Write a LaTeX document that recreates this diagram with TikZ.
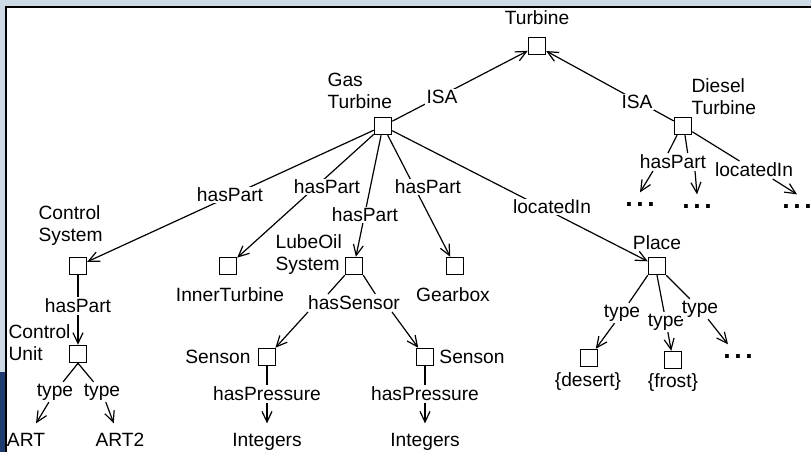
\documentclass[tikz,border=0pt]{standalone}
\usepackage{fontspec}
\setmainfont{Liberation Sans}
\usetikzlibrary{arrows.meta}
\definecolor{slidebg}{HTML}{CDD9E4}
\definecolor{logoblue}{HTML}{1E3C6E}
\newcommand{\etcdots}{{\fontsize{20}{20}\selectfont\bfseries .\kern2.7pt.\kern2.7pt.}}

\begin{document}
\begin{tikzpicture}[x=0.75pt,y=-0.75pt,>={Straight Barb[length=8pt,width=7.5pt]},
  line width=0.9pt,
  every node/.style={font=\fontsize{14.4}{16.5}\selectfont},
  box/.style={draw,line width=1.1pt,minimum size=12.75pt,inner sep=0pt},
  cname/.style={inner sep=0pt},
  leaf/.style={inner sep=0pt,outer sep=7.5pt},
  etc/.style={inner sep=0pt,outer sep=8pt},
  rel/.style={fill=white,inner sep=1pt}]
\useasboundingbox (0,0) rectangle (811,452);
\fill[slidebg] (0,0) rectangle (811,452);
\fill[logoblue] (0,372) rectangle (5,452);
\fill[white] (6,7) rectangle (811,452);
\draw[line width=1.5pt] (6,452) -- (6,7) -- (811,7);

% concepts
\node[box] (turbine) at (537,46) {};
\node[cname] (turbineT) at (537,18) {Turbine};
\node[box] (gas) at (383,126) {};
\node[cname,anchor=west,align=left] (gasT) at (327,91) {Gas\\Turbine};
\node[box] (diesel) at (683,126) {};
\node[cname,anchor=west,align=left] (dieselT) at (691,97) {Diesel\\Turbine};

\node[box] (ctrl) at (78,266) {};
\node[cname,anchor=west,align=left] (ctrlT) at (38,226) {Control\\System};
\node[box] (inner) at (228,266) {};
\node[cname] (innerT) at (230,295) {InnerTurbine};
\node[box] (lube) at (354,266) {};
\node[cname,anchor=west,align=left] (lubeT) at (275,255) {LubeOil\\System};
\node[box] (gear) at (455,266) {};
\node[cname] (gearT) at (453,295) {Gearbox};
\node[box] (place) at (657,266) {};
\node[cname] (placeT) at (657,243) {Place};

\node[box] (unit) at (78,354) {};
\node[cname,anchor=west,align=left] (unitT) at (8,343) {Control\\Unit};
\node[leaf] (art) at (26,440) {ART};
\node[leaf] (art2) at (120,440) {ART2};

\node[box] (sensL) at (267,357) {};
\node[cname] (sensLT) at (218,357) {Senson};
\node[box] (sensR) at (425,357) {};
\node[cname] (sensRT) at (472,357) {Senson};
\node[leaf] (intL) at (267,442) {Integers};
\node[leaf] (intR) at (425,442) {Integers};

\node[box] (desert) at (589,358) {};
\node[cname] (desertT) at (588,382) {\{desert\}};
\node[box] (frost) at (673,360) {};
\node[cname] (frostT) at (673,383) {\{frost\}};
\node[etc] (dotsP) at (738,357) {\etcdots};
\node[etc] (dots1) at (640,205) {\etcdots};
\node[etc] (dots2) at (697,207) {\etcdots};
\node[etc] (dots3) at (797,207) {\etcdots};

% edges running under their labels
\draw[->] (gas) -- (turbine);
\draw[->] (diesel) -- (turbine);
\draw[->] (gas) -- (ctrl);
\draw[->] (gas) -- (inner);
\draw[->] (gas) -- (lube);
\draw[->] (gas) -- (gear);
\draw[->] (gas) -- (place);

% relation labels
\node[rel] (isaG) at (442,97) {ISA};
\node[rel] (isaD) at (637,102) {ISA};
\node[rel] (gHas1) at (230,195) {hasPart};
\node[rel] (gHas2) at (327,187) {hasPart};
\node[rel] (gHas3) at (365,215) {hasPart};
\node[rel] (gHas4) at (428,187) {hasPart};
\node[rel] (gLoc) at (552,207) {locatedIn};
\node[rel] (dHas) at (673,162) {hasPart};
\node[rel] (dLoc) at (754,170) {locatedIn};
\node[rel] (csHas) at (78,306) {hasPart};
\node[rel] (typeA) at (55,392) {type};
\node[rel] (typeB) at (102,392) {type};
\node[rel] (hasS) at (354,303) {hasSensor};
\node[rel] (presL) at (267,394) {hasPressure};
\node[rel] (presR) at (425,394) {hasPressure};
\node[rel] (pType1) at (622,313) {type};
\node[rel] (pType2) at (666,322) {type};
\node[rel] (pType3) at (700,309) {type};

% Diesel Turbine
\draw ([xshift=-4.5pt]diesel.south) -- ([xshift=-3.75pt]dHas.north);
\draw ([xshift=1.5pt]diesel.south) -- ([xshift=11pt]dHas.north);
\draw[->] ([xshift=-15pt]dHas.south) -- (dots1.north);
\draw[->] ([xshift=16.5pt]dHas.south) -- (dots2.north);
\draw (diesel) -- (dLoc);
\draw[->] ([xshift=14pt]dLoc.south) -- (dots3.north);

% Control System
\draw (ctrl) -- (csHas);
\draw[->] (csHas) -- (unit);
\draw (unit.south) -- (typeA);
\draw (unit.south) -- (typeB);
\draw[->] (typeA) -- (art);
\draw[->] (typeB) -- (art2);

% LubeOil System
\draw (lube.south west) -- ([xshift=-19.5pt]hasS.north);
\draw (lube.south east) -- ([xshift=16pt]hasS.north);
\draw[->] ([xshift=-34.5pt]hasS.south) -- (sensL);
\draw[->] ([xshift=28.5pt]hasS.south) -- (sensR);
\draw (sensL) -- (presL);
\draw[->] (presL) -- (intL);
\draw (sensR) -- (presR);
\draw[->] (presR) -- (intR);

% Place
\draw (place.south west) -- (pType1);
\draw (place.south) -- (pType2);
\draw (place.south east) -- (pType3);
\draw[->] (pType1) -- (desert);
\draw[->] (pType2) -- (frost);
\draw[->] (pType3) -- (dotsP);
\end{tikzpicture}
\end{document}
